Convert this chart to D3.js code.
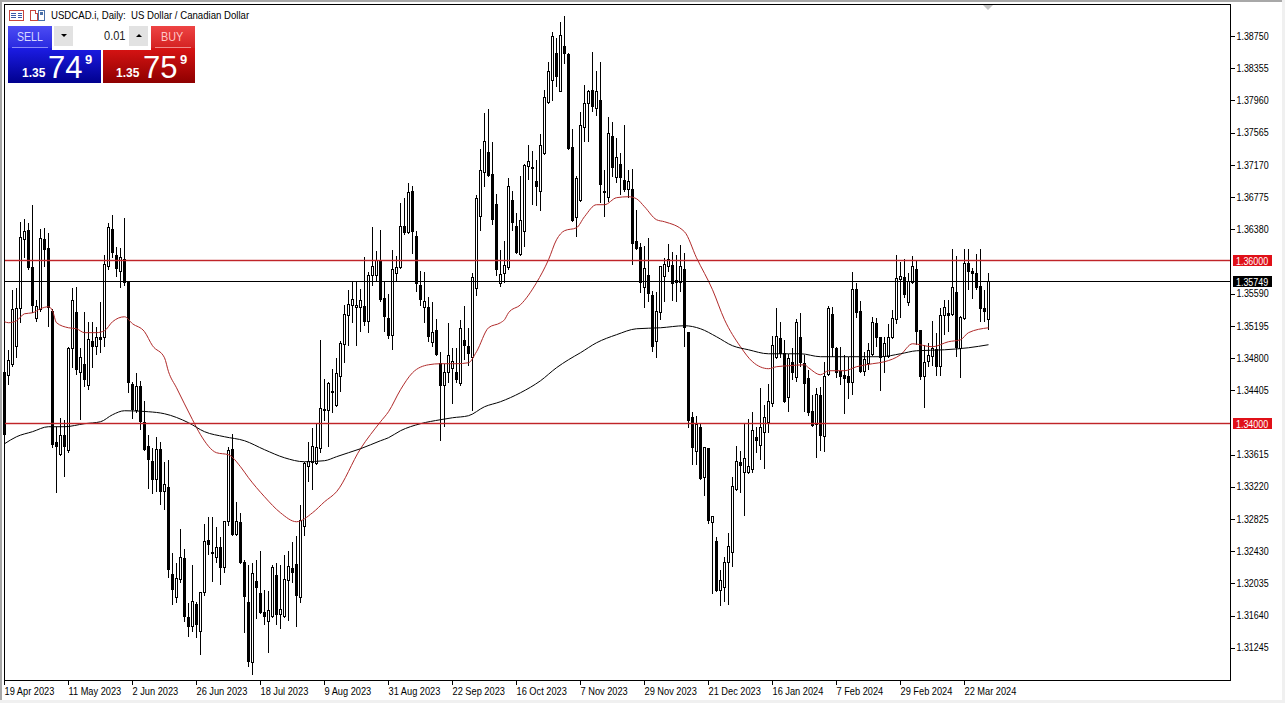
<!DOCTYPE html>
<html>
<head>
<meta charset="utf-8">
<title>USDCAD.i, Daily</title>
<script src="https://cdn.jsdelivr.net/npm/d3@7"></script>
<style>
  html, body { margin: 0; padding: 0; background: #fff; overflow: hidden; }
  svg { display: block; font-family: "Liberation Sans", Arial, sans-serif; }
</style>
</head>
<body>
<div id="chart"></div>
<script>
const opens = [
1.34625,1.34588,1.34723,1.34944,1.35411,1.36257,1.36368,1.35913,1.35288,1.35398,
1.36257,1.36146,1.35374,1.33766,1.33619,1.33852,1.33668,1.34920,1.35361,1.34625,
1.34723,1.34466,1.35006,1.34944,1.35055,1.35055,1.35926,1.36380,1.36061,1.35864,
1.36012,1.35730,1.34478,1.34159,1.34454,1.34012,1.33717,1.33533,1.33313,1.33681,
1.33165,1.33214,1.32147,1.31865,1.32085,1.32343,1.31619,1.31508,1.31779,1.31447,
1.31926,1.32564,1.32417,1.32355,1.32478,1.32233,1.32797,1.33681,1.32637,1.32785,
1.32294,1.31803,1.31067,1.32061,1.31914,1.31680,1.31570,1.31631,1.32135,1.31656,
1.31631,1.32073,1.32220,1.32270,1.31865,1.32736,1.33472,1.33521,1.33509,1.33693,
1.34171,1.34159,1.34392,1.34220,1.34576,1.34969,1.35325,1.35447,1.35423,1.35423,
1.35435,1.35251,1.35816,1.35816,1.36000,1.35533,1.35288,1.35079,1.35840,1.35913,
1.36417,1.36343,1.36846,1.36294,1.35693,1.35423,1.35423,1.34993,1.35141,1.34736,
1.34466,1.34625,1.34675,1.34625,1.34490,1.35018,1.34944,1.34809,1.35656,1.36540,
1.37079,1.37325,1.37055,1.36687,1.35717,1.35840,1.35913,1.36736,1.36417,1.36073,
1.36355,1.37153,1.37141,1.36969,1.36846,1.37312,1.37938,1.38208,1.38539,1.38073,
1.38625,1.38527,1.37386,1.36527,1.36736,1.37631,1.37926,1.38085,1.37865,1.37963,
1.36846,1.36773,1.37521,1.37018,1.37177,1.36981,1.36871,1.36871,1.36233,1.36159,
1.35668,1.35816,1.35570,1.35006,1.35361,1.35803,1.35926,1.35938,1.35754,1.35730,
1.35889,1.35117,1.34073,1.33656,1.33951,1.33337,1.33693,1.32785,1.32552,1.31951,
1.31987,1.32294,1.32417,1.33190,1.33521,1.33398,1.33398,1.33435,1.33828,1.33730,
1.33889,1.34012,1.34245,1.34809,1.35042,1.34858,1.34319,1.34748,1.34564,1.35055,
1.34736,1.34552,1.34147,1.33987,1.34343,1.33840,1.34601,1.35337,1.34920,1.34638,
1.34588,1.34576,1.34502,1.35644,1.35374,1.34638,1.34736,1.34846,1.35227,1.35055,
1.34822,1.34822,1.35055,1.35276,1.35767,1.35791,1.35484,1.35730,1.35889,1.35141,
1.34576,1.34760,1.34822,1.34907,1.34699,1.35325,1.35349,1.35337,1.35607,1.34920,
1.35288,1.35963,1.35864,1.35840,1.35681,1.35411,1.35276]

const highs = [
1.34907,1.34907,1.35644,1.35668,1.36478,1.36515,1.36466,1.36687,1.35521,1.36392,
1.36404,1.36343,1.35411,1.33963,1.34073,1.34049,1.34944,1.35668,1.35681,1.34932,
1.35374,1.35251,1.35251,1.35190,1.35496,1.36073,1.36466,1.36564,1.36171,1.36159,
1.36527,1.35742,1.34515,1.34625,1.34527,1.34282,1.33865,1.33705,1.33840,1.33779,
1.33533,1.33558,1.32417,1.32294,1.32711,1.32466,1.31803,1.32270,1.31815,1.31938,
1.32773,1.32858,1.32858,1.32736,1.32613,1.32809,1.33717,1.33877,1.33042,1.32907,
1.32331,1.32270,1.32294,1.32331,1.32442,1.31963,1.31951,1.32270,1.32294,1.32270,
1.32392,1.32442,1.32552,1.32625,1.33006,1.33533,1.33779,1.33951,1.34012,1.35030,
1.34552,1.34515,1.34675,1.34809,1.35018,1.35460,1.35644,1.35742,1.35742,1.35656,
1.36049,1.35864,1.36417,1.36122,1.36380,1.35754,1.35595,1.36134,1.36061,1.36711,
1.36773,1.36957,1.36920,1.36368,1.35877,1.35864,1.35558,1.35496,1.35288,1.34883,
1.34736,1.35239,1.34932,1.34932,1.35276,1.35447,1.35178,1.35852,1.36809,1.37374,
1.37816,1.37865,1.37460,1.36822,1.36134,1.36245,1.37018,1.36859,1.36588,1.37042,
1.37190,1.37423,1.37349,1.37239,1.37558,1.38098,1.38441,1.38809,1.38736,1.38932,
1.39006,1.38552,1.37619,1.37042,1.37828,1.38159,1.38098,1.38564,1.38331,1.38441,
1.37116,1.37766,1.37705,1.37509,1.37325,1.37668,1.37116,1.37128,1.36625,1.36220,
1.36183,1.36282,1.35632,1.35619,1.35938,1.36036,1.36208,1.36110,1.36073,1.36196,
1.36097,1.35129,1.34147,1.34098,1.34000,1.33717,1.33705,1.32870,1.32613,1.32208,
1.32368,1.32662,1.33349,1.33730,1.33668,1.34012,1.34061,1.34147,1.33963,1.34441,
1.34233,1.34490,1.35079,1.35423,1.35251,1.35030,1.34858,1.34932,1.35288,1.35361,
1.34846,1.34662,1.34355,1.34441,1.34454,1.34760,1.35447,1.35435,1.34944,1.34944,
1.34846,1.34822,1.35864,1.35730,1.35509,1.34883,1.34993,1.35312,1.35300,1.35067,
1.35067,1.35227,1.35398,1.36073,1.35987,1.36024,1.35852,1.36061,1.36000,1.35153,
1.34969,1.34993,1.35264,1.35117,1.35423,1.35521,1.35521,1.36146,1.36061,1.35325,
1.36146,1.36146,1.35913,1.36085,1.36146,1.35644,1.35852]

const lows = [
1.33840,1.34478,1.34699,1.34809,1.35239,1.36036,1.35889,1.35361,1.35251,1.35374,
1.35926,1.35190,1.33705,1.33153,1.33607,1.33349,1.33644,1.34687,1.34601,1.34049,
1.34454,1.34417,1.34687,1.34846,1.34871,1.34944,1.35889,1.36036,1.35803,1.35668,
1.35693,1.34380,1.34061,1.34134,1.33926,1.33668,1.33202,1.33141,1.33165,1.33006,
1.32944,1.32110,1.31779,1.31803,1.32049,1.31570,1.31386,1.31447,1.31374,1.31165,
1.31889,1.32392,1.32061,1.32294,1.32024,1.32171,1.32748,1.32625,1.32625,1.32282,
1.31435,1.31018,1.30920,1.31607,1.31668,1.31533,1.31190,1.31619,1.31533,1.31484,
1.31619,1.31582,1.32049,1.31508,1.31803,1.32625,1.33288,1.33190,1.33497,1.33644,
1.34036,1.33717,1.34134,1.34208,1.34392,1.34748,1.34957,1.35239,1.34957,1.35129,
1.35202,1.35117,1.35693,1.35742,1.35496,1.35129,1.35042,1.34907,1.35754,1.35901,
1.36319,1.36331,1.36085,1.35619,1.35447,1.35239,1.35006,1.34944,1.34834,1.33791,
1.33963,1.34502,1.34245,1.34502,1.34466,1.34785,1.34711,1.34159,1.35570,1.36368,
1.36908,1.37030,1.36441,1.35816,1.35681,1.35730,1.35889,1.36368,1.36085,1.36061,
1.36171,1.36993,1.36687,1.36674,1.36613,1.37300,1.37926,1.37963,1.38135,1.38073,
1.38417,1.37362,1.36478,1.36294,1.36723,1.37460,1.37460,1.37828,1.37779,1.36711,
1.36540,1.36723,1.37030,1.36957,1.36809,1.36846,1.36773,1.35950,1.36134,1.35607,
1.35423,1.35496,1.34883,1.34809,1.35276,1.35496,1.35864,1.35509,1.35496,1.35619,
1.34944,1.33951,1.33497,1.33497,1.33313,1.33116,1.32773,1.31914,1.31938,1.31766,
1.31815,1.31779,1.32245,1.33178,1.33153,1.32871,1.33386,1.33398,1.33644,1.33558,
1.33447,1.33889,1.34208,1.34797,1.34809,1.34257,1.34147,1.34539,1.34515,1.34699,
1.34147,1.34098,1.33963,1.33582,1.33668,1.33656,1.34588,1.34822,1.34564,1.34478,
1.34122,1.34306,1.34355,1.35300,1.34625,1.34588,1.34662,1.34834,1.34944,1.34404,
1.34625,1.34809,1.35042,1.35227,1.35300,1.35546,1.35447,1.35717,1.34969,1.34539,
1.34196,1.34699,1.34711,1.34588,1.34588,1.35092,1.35129,1.35325,1.34822,1.34564,
1.35276,1.35644,1.35533,1.35644,1.35251,1.35251,1.35153]

const closes = [
1.33865,1.34773,1.35398,1.35411,1.36282,1.36355,1.35913,1.35447,1.35435,1.36269,
1.36134,1.35423,1.33742,1.33717,1.33852,1.33717,1.34920,1.35509,1.34662,1.34809,
1.34539,1.35030,1.34944,1.35055,1.35030,1.35950,1.36404,1.36097,1.35901,1.36036,
1.35730,1.34502,1.34171,1.34454,1.34024,1.33681,1.33558,1.33313,1.33681,1.33165,
1.33251,1.32208,1.31963,1.32098,1.32355,1.31631,1.31508,1.31815,1.31533,1.31926,
1.32552,1.32515,1.32405,1.32478,1.32233,1.32797,1.33668,1.32637,1.32797,1.32294,
1.31877,1.31079,1.32159,1.31987,1.31680,1.31631,1.31705,1.32233,1.31656,1.31717,
1.32085,1.32245,1.32171,1.31889,1.32809,1.33509,1.33533,1.33717,1.33705,1.34184,
1.34159,1.34490,1.34380,1.34613,1.34981,1.35337,1.35460,1.35521,1.35447,1.35509,
1.35251,1.35816,1.35926,1.36000,1.35521,1.35312,1.35079,1.35889,1.35913,1.36417,
1.36343,1.36834,1.36355,1.35717,1.35521,1.35496,1.35067,1.35117,1.34846,1.34466,
1.34625,1.34834,1.34760,1.34539,1.35165,1.34957,1.34858,1.35791,1.36760,1.37104,
1.37460,1.37042,1.36503,1.35889,1.35828,1.35938,1.36908,1.36466,1.36097,1.36491,
1.37165,1.37214,1.37128,1.36908,1.37411,1.38000,1.38319,1.38748,1.38257,1.38760,
1.38539,1.37374,1.36490,1.37006,1.37656,1.37926,1.38073,1.37889,1.38073,1.36932,
1.36834,1.37558,1.37141,1.37263,1.37018,1.36871,1.36969,1.36208,1.36146,1.35730,
1.35901,1.35595,1.34944,1.35374,1.35926,1.35950,1.36012,1.35717,1.35730,1.35926,
1.35177,1.34036,1.33705,1.33987,1.33325,1.33705,1.32809,1.32858,1.31951,1.32073,
1.32294,1.32490,1.33227,1.33533,1.33484,1.33570,1.33472,1.33914,1.33791,1.33951,
1.34073,1.34270,1.34957,1.35067,1.34858,1.34270,1.34797,1.34625,1.35239,1.34748,
1.34490,1.34134,1.33975,1.34355,1.33852,1.34576,1.35411,1.34932,1.34625,1.34576,
1.34552,1.34502,1.35644,1.35361,1.34638,1.34785,1.34895,1.35239,1.35055,1.34809,
1.34981,1.35055,1.35288,1.35779,1.35803,1.35582,1.35742,1.35926,1.35129,1.34576,
1.34748,1.34834,1.34920,1.34699,1.35325,1.35423,1.35325,1.35668,1.34932,1.35300,
1.35963,1.35864,1.35840,1.35668,1.35411,1.35374,1.35749]

// moving averages at these bars
const redBars = [0,1,3,5,7,9,11,12,13,16,18,20,23,25,27,30,32,35,37,40,41,43,47,49,53,56,59,61,65,69,73,77,80,83,89,94,96,99,102,106,109,113,116,118,121,124,125,126,129,133,136,138,140,143,145,148,150,153,156,158,160,163,165,170,173,177,180,184,187,191,193,196,200,201,204,206,210,213,217,220,224,227,232,236,239,241,246]
const redMa = [1.35251,1.35239,1.35263,1.35349,1.35361,1.35411,1.35435,1.35386,1.35239,1.35177,1.35165,1.35117,1.35117,1.35141,1.35251,1.35312,1.35227,1.35129,1.34957,1.34809,1.34638,1.34441,1.34049,1.33865,1.33644,1.33619,1.33472,1.33337,1.33104,1.32907,1.32797,1.32907,1.33042,1.33165,1.33693,1.34024,1.34147,1.34417,1.34625,1.34723,1.34736,1.34736,1.34748,1.34883,1.35177,1.35239,1.35276,1.35361,1.35460,1.35730,1.36012,1.36257,1.36368,1.36404,1.36540,1.36687,1.36687,1.36773,1.36785,1.36760,1.36662,1.36503,1.36478,1.36355,1.36036,1.35644,1.35276,1.34944,1.34760,1.34675,1.34699,1.34711,1.34723,1.34687,1.34601,1.34650,1.34650,1.34699,1.34736,1.34760,1.34846,1.34981,1.34944,1.35006,1.35030,1.35117,1.35177]

const blackBars = [0,3,7,11,15,20,24,27,30,36,40,46,50,55,60,65,70,75,80,83,86,89,94,96,99,104,109,112,116,120,124,129,134,138,141,144,148,153,158,164,170,174,178,182,186,191,196,199,204,211,219,224,228,235,241,246]
const blackMa = [1.33754,1.33840,1.33902,1.33963,1.33963,1.34000,1.34024,1.34110,1.34159,1.34147,1.34122,1.34012,1.33902,1.33840,1.33791,1.33681,1.33582,1.33533,1.33546,1.33595,1.33644,1.33693,1.33791,1.33828,1.33914,1.34000,1.34049,1.34073,1.34098,1.34208,1.34270,1.34380,1.34527,1.34687,1.34785,1.34871,1.34993,1.35092,1.35165,1.35177,1.35202,1.35165,1.35067,1.34957,1.34907,1.34858,1.34858,1.34858,1.34822,1.34822,1.34822,1.34858,1.34895,1.34907,1.34932,1.34969]

const yTicks = [1.3875,1.38355,1.3796,1.37565,1.3717,1.36775,1.3638,1.3559,1.35195,1.348,1.34405,1.33615,1.3322,1.32825,1.3243,1.32035,1.3164,1.31245]
const dateTicks = ["19 Apr 2023","11 May 2023","2 Jun 2023","26 Jun 2023","18 Jul 2023","9 Aug 2023","31 Aug 2023","22 Sep 2023","16 Oct 2023","7 Nov 2023","29 Nov 2023","21 Dec 2023","16 Jan 2024","7 Feb 2024","29 Feb 2024","22 Mar 2024"]
const dateTickBars = dateTicks.map((d, i) => i * 16)
const levels = [1.36, 1.34]
const lastPrice = 1.35749

const width = 1285, height = 703
const x = d3.scaleLinear().domain([0, 246]).range([4.5, 988.5])
const y = d3.scaleLinear().domain([1.36, 1.34]).range([260.7, 423.7])
const snap = v => Math.round(y(v) - 0.5) + 0.5

// the reference font runs narrower than anything installed, so squeeze the glyphs
function squeeze(sel, factor) {
  sel.each(function () {
    const len = this.getComputedTextLength()
    d3.select(this)
      .attr("textLength", len * factor)
      .attr("lengthAdjust", "spacingAndGlyphs")
  })
}

const svg = d3.select("#chart").append("svg")
  .attr("width", width)
  .attr("height", height)

// window edges
svg.append("rect").attr("width", width).attr("height", height).attr("fill", "#fff")
svg.append("rect").attr("width", width).attr("height", 2).attr("fill", "#a8a8a8")
svg.append("rect").attr("width", 2).attr("height", height).attr("fill", "#a8a8a8")
svg.append("rect").attr("x", 1282).attr("width", 3).attr("height", height).attr("fill", "#f0f0f0")
svg.append("rect").attr("y", 700).attr("width", width).attr("height", 3).attr("fill", "#f0f0f0")

// chart frame
svg.append("rect")
  .attr("x", 4.5).attr("y", 4.5)
  .attr("width", 1226).attr("height", 676)
  .attr("fill", "#fff").attr("stroke", "#000")
  .attr("shape-rendering", "crispEdges")

svg.append("path")
  .attr("d", "M983,5L993,5L988,10Z")
  .attr("fill", "#c4c4c4")

// candles
const candles = svg.append("g").attr("shape-rendering", "crispEdges")
const bars = candles.selectAll("g").data(d3.range(opens.length)).join("g")

bars.append("line")
  .attr("x1", i => x(i)).attr("x2", i => x(i))
  .attr("y1", i => snap(highs[i]))
  .attr("y2", i => snap(lows[i]) + 0.5)
  .attr("stroke", "#000")

bars.append("rect")
  .attr("x", i => x(i) - 1)
  .attr("width", 2)
  .attr("y", i => snap(Math.max(opens[i], closes[i])))
  .attr("height", i => snap(Math.min(opens[i], closes[i])) - snap(Math.max(opens[i], closes[i])))
  .attr("fill", i => closes[i] >= opens[i] ? "#fff" : "#000")
  .attr("stroke", "#000")

// moving averages
const maLine = d3.line().x(d => x(d[0])).y(d => y(d[1])).curve(d3.curveMonotoneX)

svg.append("path")
  .datum(redBars.map((b, i) => [b, redMa[i]]))
  .attr("d", maLine)
  .attr("fill", "none")
  .attr("stroke", "#b02a2a")
  .attr("stroke-width", 1)

svg.append("path")
  .datum(blackBars.map((b, i) => [b, blackMa[i]]))
  .attr("d", maLine)
  .attr("fill", "none")
  .attr("stroke", "#000")
  .attr("stroke-width", 1)

// horizontal levels, the red ones carry a faint halo like the reference
const hlines = svg.append("g").attr("shape-rendering", "crispEdges")
hlines.selectAll("rect.halo").data(levels).join("rect")
  .attr("class", "halo")
  .attr("x", 5).attr("width", 1225)
  .attr("y", d => snap(d) - 1.5).attr("height", 3)
  .attr("fill", "#c02428").attr("opacity", 0.22)
hlines.selectAll("line.level").data(levels).join("line")
  .attr("class", "level")
  .attr("x1", 5).attr("x2", 1230)
  .attr("y1", d => snap(d)).attr("y2", d => snap(d))
  .attr("stroke", "#c02428")
hlines.append("line")
  .attr("x1", 5).attr("x2", 1230)
  .attr("y1", snap(lastPrice)).attr("y2", snap(lastPrice))
  .attr("stroke", "#000")

// axes
const yAxis = d3.axisRight(y)
  .tickValues(yTicks)
  .tickFormat(d3.format(".5f"))
  .tickSize(4)
  .tickPadding(2)
  .offset(0)

const gy = svg.append("g")
  .attr("transform", "translate(1230.5,0)")
  .call(yAxis)
gy.select(".domain").remove()
gy.selectAll("line").attr("shape-rendering", "crispEdges").attr("stroke", "#000")
gy.selectAll("text").attr("font-size", 10).attr("font-family", "Liberation Sans").attr("fill", "#000")
  .call(squeeze, 0.89)

const xAxis = d3.axisBottom(x)
  .tickValues(dateTickBars)
  .tickFormat((d, i) => dateTicks[i])
  .tickSize(4)
  .tickPadding(3)
  .offset(0)

const gx = svg.append("g")
  .attr("transform", "translate(0,680.5)")
  .call(xAxis)
gx.select(".domain").remove()
gx.selectAll("line").attr("shape-rendering", "crispEdges").attr("stroke", "#000")
gx.selectAll("text")
  .attr("text-anchor", "start")
  .attr("dx", 0)
  .attr("font-size", 10.5)
  .attr("font-family", "Liberation Sans")
  .attr("fill", "#000")
  .call(squeeze, 0.88)

// price tags on the right
function priceTag(value, color) {
  const g = svg.append("g")
  g.append("rect")
    .attr("x", 1233).attr("y", snap(value) - 5.5)
    .attr("width", 39).attr("height", 11)
    .attr("fill", color)
  g.append("text")
    .attr("x", 1236).attr("y", snap(value) + 4)
    .attr("font-size", 10).attr("fill", "#fff")
    .text(d3.format(".5f")(value))
    .call(squeeze, 0.89)
}
levels.forEach(v => priceTag(v, "#e01018"))
priceTag(lastPrice, "#000")

// title + icons
svg.append("text")
  .attr("x", 51).attr("y", 19)
  .attr("font-size", 10.5).attr("fill", "#000")
  .attr("xml:space", "preserve")
  .text("USDCAD.i, Daily:  US Dollar / Canadian Dollar")
  .call(squeeze, 0.915)

const icons = svg.append("g").attr("shape-rendering", "crispEdges")
icons.append("rect").attr("x", 9.5).attr("y", 10.5).attr("width", 14).attr("height", 10)
  .attr("fill", "#fff").attr("stroke", "#c8453c")
icons.append("path").attr("d", "M11,13.5H16M11,15.5H16M11,17.5H16M18,13.5H22M18,15.5H22M18,17.5H22")
  .attr("stroke", "#3a5aa8").attr("fill", "none")
icons.append("path").attr("d", "M30.5,10.5H35.5V13.5H37.5V20.5H30.5Z").attr("fill", "#fff").attr("stroke", "#c8453c")
icons.append("rect").attr("x", 38.5).attr("y", 10.5).attr("width", 6).attr("height", 10)
  .attr("fill", "#fff").attr("stroke", "#4a70a8")
icons.append("rect").attr("x", 40).attr("y", 12).attr("width", 3).attr("height", 3).attr("fill", "#4a70a8")

// one click trading panel
const defs = svg.append("defs")
function grad(id, top, bottom) {
  const g = defs.append("linearGradient").attr("id", id).attr("x1", 0).attr("y1", 0).attr("x2", 0).attr("y2", 1)
  g.append("stop").attr("offset", "0%").attr("stop-color", top)
  g.append("stop").attr("offset", "100%").attr("stop-color", bottom)
}
grad("sellTop", "#4c4cf4", "#2a2ae0")
grad("sellBox", "#1c1ce4", "#00008e")
grad("buyTop", "#ee4444", "#d42222")
grad("buyBox", "#d81414", "#8e0000")

const panel = svg.append("g")
panel.append("rect").attr("x", 8).attr("y", 48).attr("width", 93).attr("height", 35).attr("fill", "url(#sellBox)")
panel.append("rect").attr("x", 8).attr("y", 26).attr("width", 44).attr("height", 22).attr("fill", "url(#sellTop)")
panel.append("rect").attr("x", 103).attr("y", 48).attr("width", 92).attr("height", 35).attr("fill", "url(#buyBox)")
panel.append("rect").attr("x", 151).attr("y", 26).attr("width", 44).attr("height", 22).attr("fill", "url(#buyTop)")
panel.append("rect").attr("x", 12).attr("y", 47).attr("width", 36).attr("height", 1).attr("fill", "#8a8af8")
panel.append("rect").attr("x", 155).attr("y", 47).attr("width", 36).attr("height", 1).attr("fill", "#f08a8a")

panel.append("rect").attr("x", 52).attr("y", 26).attr("width", 99).attr("height", 24).attr("fill", "#fff")
panel.append("rect").attr("x", 54).attr("y", 26).attr("width", 19).attr("height", 20).attr("fill", "#e2e2e2")
panel.append("rect").attr("x", 129).attr("y", 26).attr("width", 19).attr("height", 20).attr("fill", "#e2e2e2")
panel.append("path").attr("d", "M61,34H67L64,37Z").attr("fill", "#000")
panel.append("path").attr("d", "M136,37H142L139,34Z").attr("fill", "#000")

const panelText = (tx, ty, size, color, label, weight) => panel.append("text")
  .attr("x", tx).attr("y", ty).attr("font-size", size).attr("fill", color)
  .attr("font-weight", weight || "normal").text(label)

panelText(17, 41, 12, "#d8d8ff", "SELL").call(squeeze, 0.88)
panelText(161, 41, 12, "#ffc8c8", "BUY").call(squeeze, 0.9)
panelText(104, 40, 12, "#222", "0.01").call(squeeze, 0.92)
panelText(22, 77, 12, "#fff", "1.35", "bold")
panelText(48, 78, 31, "#fff", "74")
panelText(85, 64, 13, "#fff", "9", "bold")
panelText(116, 77, 12, "#fff", "1.35", "bold")
panelText(143, 78, 31, "#fff", "75")
panelText(180, 64, 13, "#fff", "9", "bold")
</script>
</body>
</html>
